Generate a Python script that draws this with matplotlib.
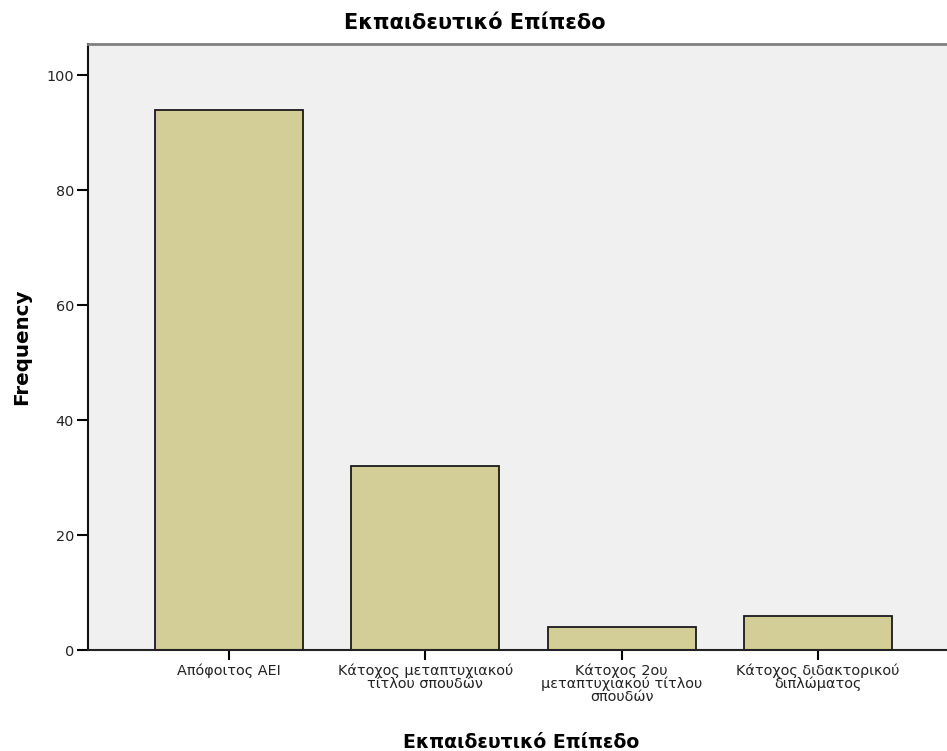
import matplotlib
matplotlib.use("Agg")
import matplotlib.pyplot as plt

categories = ["Απόφοιτος ΑΕΙ",
              "Κάτοχος μεταπτυχιακού\nτίτλου σπουδών",
              "Κάτοχος 2ου\nμεταπτυχιακού τίτλου\nσπουδών",
              "Κάτοχος διδακτορικού\nδιπλώματος"]
frequencies = [94, 32, 4, 6]
y_ticks = [0, 20, 40, 60, 80, 100]
title_text = "Εκπαιδευτικό Επίπεδο"
x_label = "Εκπαιδευτικό Επίπεδο"
y_label = "Frequency"

plt.rcParams['font.family'] = ['DejaVu Sans']

W, H = 947, 751
fig = plt.figure(figsize=(W / 100, H / 100), dpi=100)
ax = fig.add_axes([88 / W, 101 / H, (947 - 88) / W, (650 - 44) / H])
ax.set_facecolor('#F0F0F0')

x = list(range(len(categories)))
ax.bar(x, frequencies, width=0.754, color='#D3CE97', edgecolor='#1a1a1a',
       linewidth=1.3, zorder=3)

ax.set_xlim(-0.718, 3.657)
ax.set_ylim(0, 105.4)
ax.set_yticks(y_ticks)
ax.set_xticks(x)
ax.set_xticklabels(categories, fontsize=10.4, linespacing=0.85, color='#222222')
ax.tick_params(axis='y', length=8, width=1.5, pad=2, labelsize=10.4,
               labelcolor='#222222')
ax.tick_params(axis='x', length=7, width=1.5, pad=3)

ax.spines['right'].set_visible(False)
ax.spines['top'].set_color('#808080')
ax.spines['top'].set_linewidth(2)
ax.spines['left'].set_color('#111111')
ax.spines['left'].set_linewidth(1.5)
ax.spines['bottom'].set_color('#222222')
ax.spines['bottom'].set_linewidth(1.5)
ax.spines['bottom'].set_zorder(4)

fig.text(474.5 / W, 1 - 23 / H, title_text, ha='center', va='center',
         fontsize=15, fontweight='bold')
fig.text(521 / W, 1 - 742 / H, x_label, ha='center', va='center',
         fontsize=13.6, fontweight='bold')
fig.text(22 / W, 1 - 347 / H, y_label, ha='center', va='center',
         rotation=90, fontsize=14.3, fontweight='bold')

fig.savefig("out.png", dpi=100)
